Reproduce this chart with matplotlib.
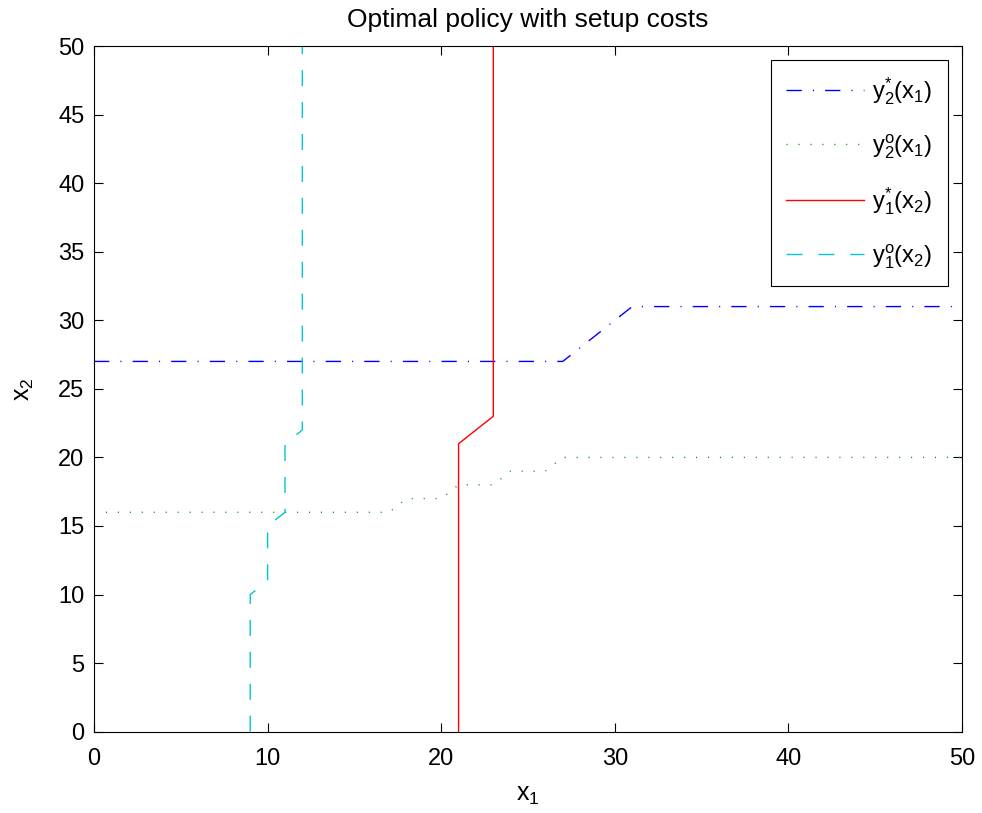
import numpy as np
import matplotlib.pyplot as plt

plt.rcParams['font.family'] = ['Liberation Sans', 'DejaVu Sans']
plt.rcParams['mathtext.fontset'] = 'custom'
plt.rcParams['mathtext.rm'] = 'Liberation Sans'
plt.rcParams['mathtext.it'] = 'Liberation Sans'
plt.rcParams['mathtext.default'] = 'regular'

# ---- policy curves (polyline vertices) ------------------------------------
# y2*(x1): order-up-to level for item 2 as a function of x1
ystar2_x1 = [0, 27, 31, 50]
ystar2_val = [27, 27, 31, 31]

# y2o(x1): reorder point for item 2
yo2_x1 = [0, 17, 18, 20, 21, 23, 24, 26, 27, 50]
yo2_val = [16, 16, 17, 17, 18, 18, 19, 19, 20, 20]

# y1*(x2): order-up-to level for item 1 as a function of x2
ystar1_x2 = [0, 21, 23, 50]
ystar1_val = [21, 21, 23, 23]

# y1o(x2): reorder point for item 1
yo1_x2 = [0, 10, 11, 15, 16, 21, 22, 50]
yo1_val = [9, 9, 10, 10, 11, 11, 12, 12]

labels = [r'$y_2^{*}(x_1)$', r'$y_2^{o}(x_1)$', r'$y_1^{*}(x_2)$', r'$y_1^{o}(x_2)$']

fig = plt.figure(figsize=(9.82, 8.13), dpi=100)
ax = fig.add_axes([0.0957, 0.1, 0.884, 0.8434])

ax.plot(ystar2_x1, ystar2_val, color='blue', lw=1.0,
        linestyle=(0, (11, 8, 0.8, 8)), label=labels[0])
ax.plot(yo2_x1, yo2_val, color='#00a000', lw=1.0,
        linestyle=(0, (0.8, 7.8)), label=labels[1])
ax.plot(ystar1_val, ystar1_x2, color='red', lw=1.0,
        linestyle='-', label=labels[2])
ax.plot(yo1_val, yo1_x2, color='#00c8c8', lw=1.0,
        linestyle=(0, (11.5, 11.5)), label=labels[3])

ax.set_xlim(0, 50)
ax.set_ylim(0, 50)
ax.set_xticks(np.arange(0, 51, 10))
ax.set_yticks(np.arange(0, 51, 5))
ax.tick_params(direction='in', length=6.5, width=0.8, labelsize=17,
               top=True, right=True)
ax.tick_params(axis='x', pad=12)
ax.tick_params(axis='y', pad=7)
for sp in ax.spines.values():
    sp.set_linewidth(0.8)

ax.set_xlabel(r'$x_1$', fontsize=18, labelpad=9)
ax.set_ylabel(r'$x_2$', fontsize=18, labelpad=16)
ax.set_title('Optimal policy with setup costs', fontsize=19, pad=14)

leg = ax.legend(loc='upper right', fontsize=17, handlelength=3.3,
                labelspacing=1.05, borderaxespad=0.6, fancybox=False,
                framealpha=1, handletextpad=0.35, borderpad=0.65)
leg.get_frame().set_edgecolor('black')
leg.get_frame().set_linewidth(0.8)

fig.savefig('out.png', dpi=100)
